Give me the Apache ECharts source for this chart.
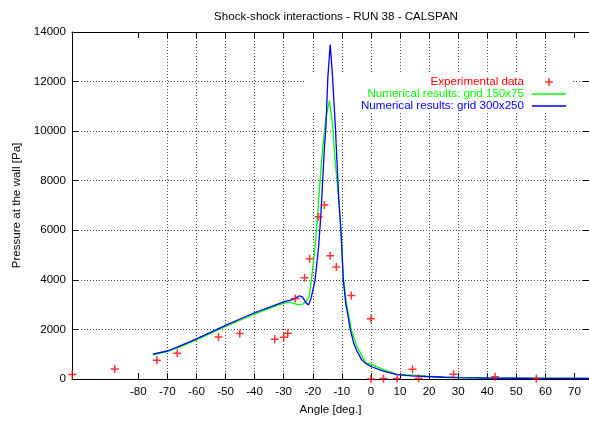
<!DOCTYPE html>
<html><head><meta charset="utf-8">
<script src="https://cdn.jsdelivr.net/npm/echarts@6/dist/echarts.min.js"></script>
<style>html,body{margin:0;padding:0;background:#fff}#c{width:589px;height:421px}</style>
</head><body><div id="c"></div>
<script>
const chartTitle = 'Shock-shock interactions - RUN 38 - CALSPAN';
const xName = 'Angle [deg.]';
const yName = 'Pressure at the wall [Pa]';
const xTicks = [-80, -70, -60, -50, -40, -30, -20, -10, 0, 10, 20, 30, 40, 50, 60, 70];
const yTicks = [0, 2000, 4000, 6000, 8000, 10000, 12000, 14000];
const seriesNames = ['Experimental data', 'Numerical results: grid 150x75', 'Numerical results: grid 300x250'];

const expAngle = [-102.7, -88.1, -73.6, -66.6, -52.4, -45.1, -33.1, -30.0, -28.6, -26.0, -22.8, -21.1, -18.0, -16.0, -14.0, -11.9, -6.75, 0, 0, 4.3, 9, 14.3, 16.4, 28.4, 42.7, 56.9];
const expPressure = [180, 400, 760, 1040, 1690, 1840, 1600, 1680, 1850, 3250, 4080, 4850, 6550, 7020, 4970, 4520, 3370, 2430, 0, 20, 25, 390, 20, 190, 90, 10];

const g150Angle = [-75, -70, -65, -60, -55, -50, -45, -40, -35, -30, -28, -26.5, -25, -23.5, -22.2, -21.2, -20.5, -19.2, -18.3, -17.5, -16.6, -15.5, -14.3, -13.2, -12.3, -11.1, -10.3, -9.5, -8.5, -7.8, -6.75, -4.9, -4.3, -1.8, 0, 4.3, 9, 14.3, 19, 25, 30, 40, 50, 60, 75];
const g150Pressure = [970, 1100, 1330, 1580, 1850, 2120, 2370, 2620, 2850, 3060, 3100, 3050, 2990, 3020, 3150, 3323, 3989, 5317, 6646, 7978, 9307, 10500, 11235, 10300, 8776, 7310, 5984, 4100, 3100, 2657, 1994, 1328, 1197, 662, 598, 380, 184, 160, 120, 80, 60, 45, 35, 30, 25];

const g300Angle = [-75, -70, -65, -60, -55, -50, -45, -40, -35, -30, -27, -25.5, -24.6, -23.5, -22.2, -21.4, -20.5, -19.2, -18, -17.2, -16.6, -16.0, -15.5, -14.8, -14, -13.2, -12.2, -11.6, -11.1, -10.3, -9.5, -8.6, -8.1, -7.1, -5.8, -4.9, -3.2, -1.7, 0, 4, 9, 14, 19, 25, 30, 40, 50, 60, 75];
const g300Pressure = [1000, 1130, 1370, 1620, 1890, 2166, 2420, 2673, 2890, 3110, 3200, 3300, 3360, 3300, 3050, 2990, 3300, 3989, 5317, 6646, 7978, 9307, 10106, 12200, 13496, 12200, 10106, 8600, 7310, 5984, 3989, 2992, 2700, 1994, 1400, 1150, 780, 620, 504, 330, 180, 130, 100, 70, 55, 40, 30, 25, 20];

const zip = (a, b) => a.map((v, i) => [v, b[i]]);
const FONT = 'Liberation Sans, Arial, Helvetica, sans-serif';
const FS = 11.6;
const crossPath = 'path://M-0.75,-4H0.75V-0.75H4V0.75H0.75V4H-0.75V0.75H-4V-0.75H-0.75Z';
const lineIcon = 'path://M0,0H34V1.4H0Z';
const gridLine = { show: true, showMinLine: false, showMaxLine: false, lineStyle: { color: '#444', width: 1, type: [1, 2] } };

const chart = echarts.init(document.getElementById('c'), null, { renderer: 'canvas' });
chart.setOption({
  animation: false,
  backgroundColor: '#fff',
  title: { text: chartTitle, left: 331, textAlign: 'center', top: 6, textStyle: { fontFamily: FONT, fontSize: FS, fontWeight: 'normal', color: '#000' } },
  legend: {
    orient: 'vertical', right: 17, top: 73, align: 'right', z: 1,
    itemWidth: 34, itemHeight: 8, itemGap: 0,
    padding: [3, 6, 0, 55], backgroundColor: '#fff',
    textStyle: { fontFamily: FONT, fontSize: FS, lineHeight: 12, padding: [0, 3, 0, 0] },
    data: [
      { name: seriesNames[0], textStyle: { color: '#ff0000' } },
      { name: seriesNames[1], icon: lineIcon, textStyle: { color: '#00ff00' } },
      { name: seriesNames[2], icon: lineIcon, textStyle: { color: '#0000ff' } }
    ]
  },
  grid: { left: 72, right: -1, top: 32, bottom: 38, containLabel: false },
  xAxis: [
    { type: 'value', position: 'bottom', min: -102.8, max: 75,
      name: xName, nameLocation: 'middle', nameGap: 25,
      nameTextStyle: { fontFamily: FONT, fontSize: FS, color: '#000' },
      axisLine: { show: true, onZero: false, lineStyle: { color: '#000', width: 1 } },
      axisTick: { show: true, inside: true, length: 6, customValues: xTicks, lineStyle: { color: '#000' } },
      axisLabel: { customValues: xTicks, margin: 7, fontFamily: FONT, fontSize: FS, color: '#000', formatter: v => String(v) },
      splitLine: gridLine },
    { type: 'value', position: 'top', min: -102.8, max: 75,
      axisLine: { show: true, onZero: false, lineStyle: { color: '#000', width: 1 } },
      axisTick: { show: true, inside: true, length: 6, customValues: xTicks, lineStyle: { color: '#000' } },
      axisLabel: { show: false }, splitLine: { show: false } }
  ],
  yAxis: [
    { type: 'value', position: 'left', min: 0, max: 14000, interval: 2000,
      name: yName, nameLocation: 'middle', nameGap: 48, nameRotate: 90,
      nameTextStyle: { fontFamily: FONT, fontSize: FS, color: '#000' },
      axisLine: { show: true, onZero: false, lineStyle: { color: '#000', width: 1 } },
      axisTick: { show: true, inside: true, length: 6, customValues: yTicks, lineStyle: { color: '#000' } },
      axisLabel: { customValues: yTicks, margin: 6, fontFamily: FONT, fontSize: FS, color: '#000', formatter: v => String(v) },
      splitLine: gridLine },
    { type: 'value', position: 'right', min: 0, max: 14000, interval: 2000,
      axisLine: { show: true, onZero: false, lineStyle: { color: '#000', width: 1 } },
      axisTick: { show: true, inside: true, length: 6, lineStyle: { color: '#000' } },
      axisLabel: { show: false }, splitLine: { show: false } }
  ],
  series: [
    { name: seriesNames[0], type: 'scatter', data: zip(expAngle, expPressure),
      symbol: crossPath, symbolSize: 8, itemStyle: { color: '#ff0000' }, z: 3 },
    { name: seriesNames[1], type: 'line', data: zip(g150Angle, g150Pressure),
      symbol: 'none', showSymbol: false, color: '#00ff00', lineStyle: { color: '#00ff00', width: 1.3 } },
    { name: seriesNames[2], type: 'line', data: zip(g300Angle, g300Pressure),
      symbol: 'none', showSymbol: false, color: '#0000ff', lineStyle: { color: '#0000ff', width: 1.3 } }
  ]
});
</script></body></html>
